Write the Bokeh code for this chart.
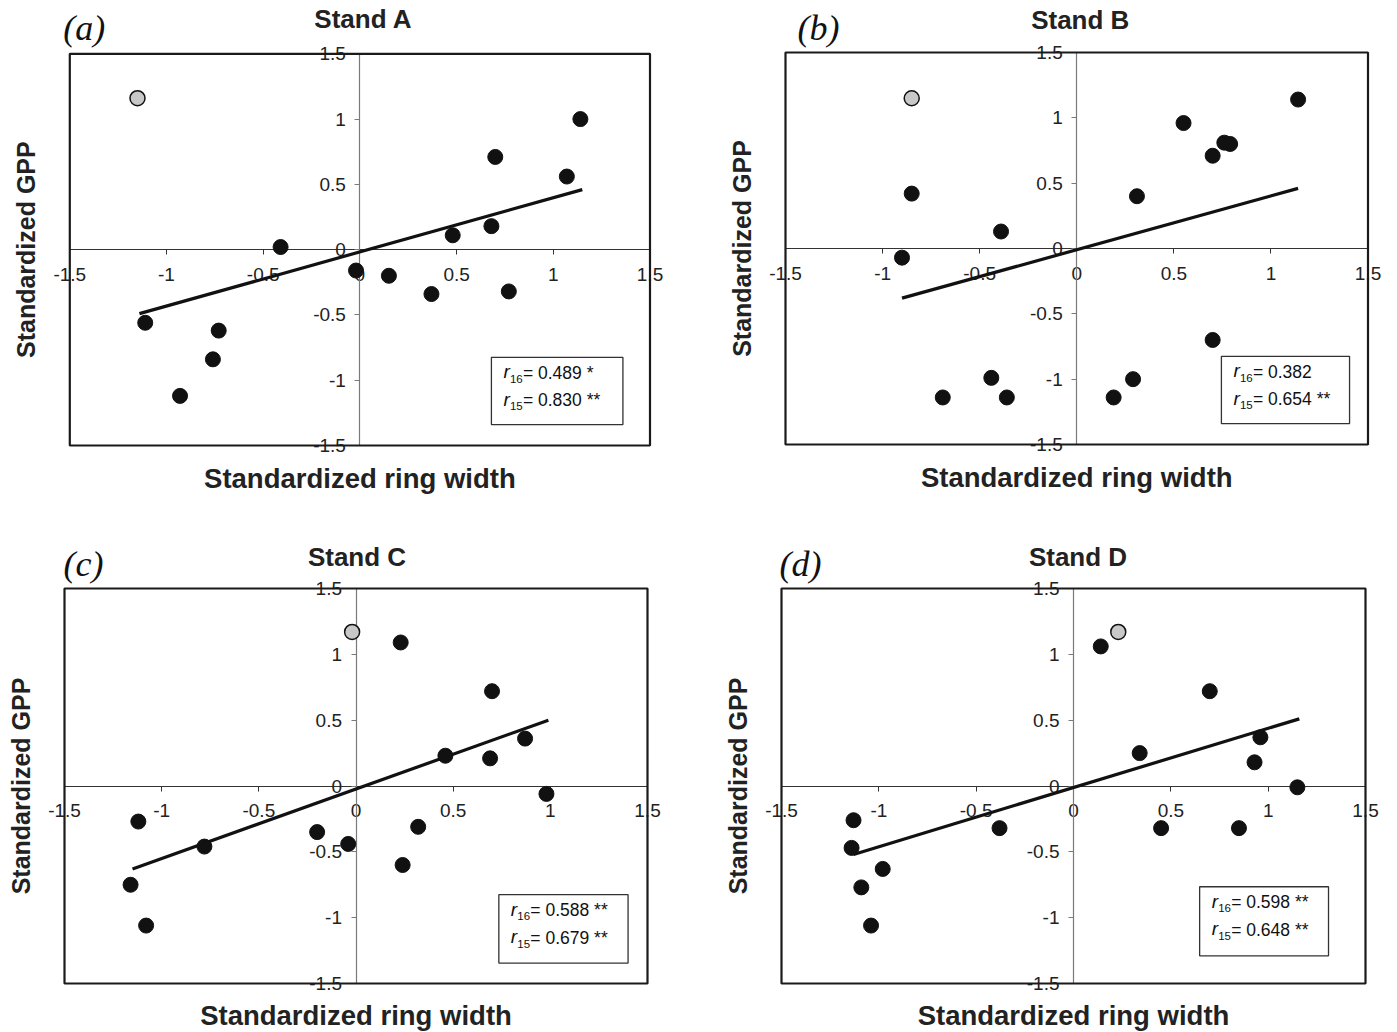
from math import pi
from bokeh.plotting import figure
from bokeh.models import Range1d, FixedTicker, Label, BoxAnnotation
from bokeh.layouts import gridplot
from bokeh.embed import file_html
from bokeh.resources import INLINE

# ---------------- data ----------------
tick_values = [-1.5, -1, -0.5, 0, 0.5, 1, 1.5]
tick_labels = ["-1.5", "-1", "-0.5", "0", "0.5", "1", "1.5"]
x_label = "Standardized ring width"
y_label = "Standardized GPP"
panel_titles = ["Stand A", "Stand B", "Stand C", "Stand D"]
panel_letters = ["(a)", "(b)", "(c)", "(d)"]

# Stand A
a_x = [1.14, 0.70, 1.07, 0.68, 0.48, -0.41, -0.02, 0.15, 0.37, 0.77, -1.11, -0.73, -0.76, -0.93]
a_y = [1.00, 0.71, 0.56, 0.18, 0.11, 0.02, -0.16, -0.20, -0.34, -0.32, -0.56, -0.62, -0.84, -1.12]
a_out_x = [-1.15]
a_out_y = [1.16]
a_fit_x = [-1.14, 1.15]
a_fit_y = [-0.49, 0.46]
a_r = ["= 0.489 *", "= 0.830 **"]

# Stand B
b_x = [1.14, 0.55, 0.76, 0.79, 0.70, 0.31, -0.85, -0.39, -0.90, 0.70, -0.44, 0.29, -0.69, -0.36, 0.19]
b_y = [1.14, 0.96, 0.81, 0.80, 0.71, 0.40, 0.42, 0.13, -0.07, -0.70, -0.99, -1.00, -1.14, -1.14, -1.14]
b_out_x = [-0.85]
b_out_y = [1.15]
b_fit_x = [-0.90, 1.14]
b_fit_y = [-0.38, 0.46]
b_r = ["= 0.382", "= 0.654 **"]

# Stand C
c_x = [0.23, 0.70, 0.87, 0.46, 0.69, 0.98, -1.12, 0.32, -0.20, -0.04, -0.78, 0.24, -1.16, -1.08]
c_y = [1.09, 0.72, 0.36, 0.23, 0.21, -0.06, -0.27, -0.31, -0.35, -0.44, -0.46, -0.60, -0.75, -1.06]
c_out_x = [-0.02]
c_out_y = [1.17]
c_fit_x = [-1.15, 0.99]
c_fit_y = [-0.63, 0.50]
c_r = ["= 0.588 **", "= 0.679 **"]

# Stand D
d_x = [0.14, 0.70, 0.96, 0.34, 0.93, 1.15, -1.13, -0.38, 0.45, 0.85, -1.14, -0.98, -1.09, -1.04]
d_y = [1.06, 0.72, 0.37, 0.25, 0.18, -0.01, -0.26, -0.32, -0.32, -0.32, -0.47, -0.63, -0.77, -1.06]
d_out_x = [0.23]
d_out_y = [1.17]
d_fit_x = [-1.13, 1.16]
d_fit_y = [-0.52, 0.51]
d_r = ["= 0.598 **", "= 0.648 **"]

r_subscripts = ["16", "15"]

# ---------------- layout (pixels, per figure) ----------------
layouts = [
    dict(W=698, H=516, L=69.3, R=649.5, T=53.3, B=445.0, sb=(0.68, 1.36, -0.825, -1.34),
         tdx=3.5, tdy=35, ldx=-6.5, ldy=26, xly=-33),
    dict(W=699, H=516, L=87.0, R=669.5, T=52.0, B=444.0, sb=(0.745, 1.405, -0.825, -1.34),
         tdx=3.5, tdy=33, ldx=12.0, ldy=25, xly=-33),
    dict(W=698, H=516, L=64.0, R=647.0, T=72.0, B=467.0, sb=(0.735, 1.40, -0.825, -1.345),
         tdx=1.0, tdy=32, ldx=-1.0, ldy=25, xly=-32),
    dict(W=699, H=516, L=83.0, R=667.0, T=72.0, B=467.0, sb=(0.648, 1.31, -0.765, -1.29),
         tdx=4.5, tdy=32, ldx=-2.0, ldy=25, xly=-32),
]

SANS = "Liberation Sans"


def make_panel(lay, title, letter, xs, ys, ox, oy, fx, fy, rtexts):
    W, H, L, R, T, B = lay["W"], lay["H"], lay["L"], lay["R"], lay["T"], lay["B"]
    sx = (R - L) / 3.0
    sy = (B - T) / 3.0
    x0 = -1.5 - L / sx
    x1 = 1.5 + (W - R) / sx
    y1 = 1.5 + T / sy
    y0 = -1.5 - (H - B) / sy

    p = figure(frame_width=W, frame_height=H,
               x_range=Range1d(x0, x1), y_range=Range1d(y0, y1),
               min_border=0, min_border_left=0, min_border_right=0,
               min_border_top=0, min_border_bottom=0,
               toolbar_location=None, tools="", output_backend="svg")
    p.title.visible = False
    p.outline_line_color = None
    p.grid.visible = False
    p.background_fill_color = "white"
    p.border_fill_color = "white"

    overrides = dict(zip(tick_values, tick_labels))
    for ax, col in ((p.xaxis[0], "#333333"), (p.yaxis[0], "#7a7a7a")):
        ax.fixed_location = 0
        ax.bounds = (-1.5, 1.5)
        ax.ticker = FixedTicker(ticks=tick_values)
        ax.major_label_overrides = overrides
        ax.minor_tick_line_color = None
        ax.major_tick_in = 0
        ax.major_tick_out = 5
        ax.axis_line_color = col
        ax.axis_line_width = 1.2
        ax.major_tick_line_color = col
        ax.major_label_text_font = SANS
        ax.major_label_text_font_size = "19px"
        ax.major_label_text_color = "#222222"
        ax.level = "underlay"
    p.xaxis[0].major_label_standoff = 13
    p.yaxis[0].major_label_standoff = 9

    # outer box
    p.add_layout(BoxAnnotation(left=-1.5, right=1.5, bottom=-1.5, top=1.5,
                               fill_color=None, fill_alpha=0,
                               line_color="#1a1a1a", line_alpha=1.0, line_width=2.2))

    p.line(fx, fy, line_color="#111111", line_width=3.2)
    p.scatter(xs, ys, size=15, fill_color="#111111", line_color="#111111")
    p.scatter(ox, oy, size=15, fill_color="#c8c8c8", line_color="#111111", line_width=1.5)

    # stats box
    bl, br, bt, bb = lay["sb"]
    p.add_layout(BoxAnnotation(left=bl, right=br, top=bt, bottom=bb,
                               fill_color="white", fill_alpha=1.0,
                               line_color="#333333", line_alpha=1.0, line_width=1.3))
    for i, (sub, txt) in enumerate(zip(r_subscripts, rtexts)):
        mid = -(15.5 + 27.5 * i)
        p.add_layout(Label(x=bl, y=bt, x_offset=12, y_offset=mid + 1, text="r",
                           text_font=SANS, text_font_style="italic", text_font_size="19px",
                           text_color="#111111", text_baseline="middle"))
        p.add_layout(Label(x=bl, y=bt, x_offset=18.5, y_offset=mid - 6, text=sub,
                           text_font=SANS, text_font_size="11.5px",
                           text_color="#111111", text_baseline="middle"))
        p.add_layout(Label(x=bl, y=bt, x_offset=31.5, y_offset=mid, text=txt,
                           text_font=SANS, text_font_size="17.5px",
                           text_color="#111111", text_baseline="middle"))

    # title and panel letter
    p.add_layout(Label(x=0, y=1.5, x_offset=lay["tdx"], y_offset=lay["tdy"], text=title,
                       text_font=SANS, text_font_style="bold", text_font_size="26px",
                       text_color="#222222", text_align="center", text_baseline="middle"))
    p.add_layout(Label(x=-1.5, y=1.5, x_offset=lay["ldx"], y_offset=lay["ldy"], text=letter,
                       text_font="Liberation Serif", text_font_style="italic",
                       text_font_size="36px", text_color="#111111",
                       text_align="left", text_baseline="middle"))
    # axis titles
    p.add_layout(Label(x=0, y=-1.5, y_offset=lay["xly"], text=x_label,
                       text_font=SANS, text_font_style="bold", text_font_size="27.5px",
                       text_color="#222222", text_align="center", text_baseline="middle"))
    p.add_layout(Label(x=-1.5, y=0, x_offset=-44, text=y_label, angle=pi / 2,
                       text_font=SANS, text_font_style="bold", text_font_size="25px",
                       text_color="#222222", text_align="center", text_baseline="middle"))
    return p


pa = make_panel(layouts[0], panel_titles[0], panel_letters[0], a_x, a_y, a_out_x, a_out_y, a_fit_x, a_fit_y, a_r)
pb = make_panel(layouts[1], panel_titles[1], panel_letters[1], b_x, b_y, b_out_x, b_out_y, b_fit_x, b_fit_y, b_r)
pc = make_panel(layouts[2], panel_titles[2], panel_letters[2], c_x, c_y, c_out_x, c_out_y, c_fit_x, c_fit_y, c_r)
pd = make_panel(layouts[3], panel_titles[3], panel_letters[3], d_x, d_y, d_out_x, d_out_y, d_fit_x, d_fit_y, d_r)

grid = gridplot([[pa, pb], [pc, pd]], toolbar_location=None)

with open("out.html", "w") as f:
    f.write(file_html(grid, INLINE))
